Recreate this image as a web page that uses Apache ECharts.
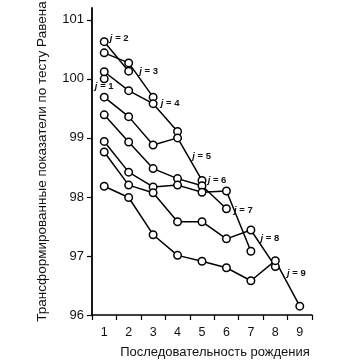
<!DOCTYPE html>
<html>
<head>
<meta charset="utf-8">
<script src="https://cdn.jsdelivr.net/npm/echarts@6/dist/echarts.min.js"></script>
<style>
html,body{margin:0;padding:0;background:#fff;}
#chart{width:360px;height:364px;}
</style>
</head>
<body>
<div id="chart"></div>
<script>
// Birth order categories (x axis)
const categories = ['1', '2', '3', '4', '5', '6', '7', '8', '9'];
// Y axis tick labels
const yTicks = [96, 97, 98, 99, 100, 101];
// Family size series j = 1..9 (values by birth order)
const j1 = [100.00];
const j2 = [100.63, 100.13];
const j3 = [100.44, 100.27, 99.69];
const j4 = [100.12, 99.80, 99.58, 99.11];
const j5 = [99.69, 99.36, 98.88, 99.00, 98.28];
const j6 = [99.39, 98.93, 98.48, 98.31, 98.19, 97.80];
const j7 = [98.94, 98.42, 98.17, 98.20, 98.08, 98.10, 97.08];
const j8 = [98.76, 98.20, 98.07, 97.58, 97.58, 97.29, 97.44, 96.82];
const j9 = [98.18, 97.99, 97.36, 97.01, 96.91, 96.80, 96.58, 96.92, 96.15];
const seriesList = [j1, j2, j3, j4, j5, j6, j7, j8, j9];
const seriesNames = ['1', '2', '3', '4', '5', '6', '7', '8', '9'];

// label placement (style): [data index, dx, dy]
const labelPlace = [[0, 0, 8], [0, 15, -3], [1, 20, 8], [2, 17, 0], [3, 24, 18], [4, 15, -5], [5, 17, 19], [6, 19, 8], [7, 21, 13]];

const FONT = 'Liberation Sans, Arial, Helvetica, sans-serif';

const series = seriesList.map((vals, k) => {
  const lp = labelPlace[k];
  const data = vals.map((v, i) => {
    if (i === lp[0]) {
      return {
        value: v,
        label: {
          show: true,
          position: 'inside',
          offset: [lp[1], lp[2]],
          formatter: '{i|j} = ' + seriesNames[k],
          color: '#111',
          fontSize: 9.5,
          fontWeight: 'bold',
          fontFamily: FONT,
          rich: { i: { fontStyle: 'italic', fontSize: 9.5, fontWeight: 'bold', fontFamily: FONT, color: '#111' } }
        }
      };
    }
    return v;
  });
  return {
    type: 'line',
    name: 'j = ' + seriesNames[k],
    data: data,
    symbol: 'circle',
    symbolSize: 7.5,
    showSymbol: true,
    showAllSymbol: true,
    lineStyle: { color: '#000', width: 1.5 },
    itemStyle: { color: '#fff', borderColor: '#000', borderWidth: 1.5 },
    emphasis: { disabled: true },
    z: 2
  };
});

const chart = echarts.init(document.getElementById('chart'), null, { renderer: 'canvas' });
chart.setOption({
  animation: false,
  backgroundColor: '#fff',
  grid: { left: 92, right: 48, top: 8, bottom: 42 },
  xAxis: {
    type: 'category',
    data: categories,
    boundaryGap: true,
    name: 'Последовательность рождения',
    nameLocation: 'middle',
    nameGap: 31,
    nameTextStyle: { fontSize: 13, color: '#111', fontFamily: FONT, padding: [0, 0, 0, 26] },
    axisLine: { lineStyle: { color: '#000', width: 1.5 } },
    axisTick: { show: true, length: 5, inside: false, lineStyle: { color: '#000', width: 1.2 } },
    axisLabel: { fontSize: 12.5, color: '#111', margin: 11, fontFamily: FONT },
    splitLine: { show: false }
  },
  yAxis: {
    type: 'value',
    min: 96,
    max: 101.2,
    interval: 1,
    name: 'Трансформированные показатели по тесту Равена',
    nameLocation: 'middle',
    nameRotate: 90,
    nameGap: 43,
    nameTextStyle: { fontSize: 13.5, color: '#111', fontFamily: FONT },
    axisLine: { show: true, lineStyle: { color: '#000', width: 1.8 } },
    axisTick: { show: true, length: 5, inside: false, customValues: yTicks, lineStyle: { color: '#000', width: 1.2 } },
    axisLabel: { fontSize: 13, color: '#111', margin: 8, fontFamily: FONT, customValues: yTicks },
    splitLine: { show: false }
  },
  series: series
});
</script>
</body>
</html>
